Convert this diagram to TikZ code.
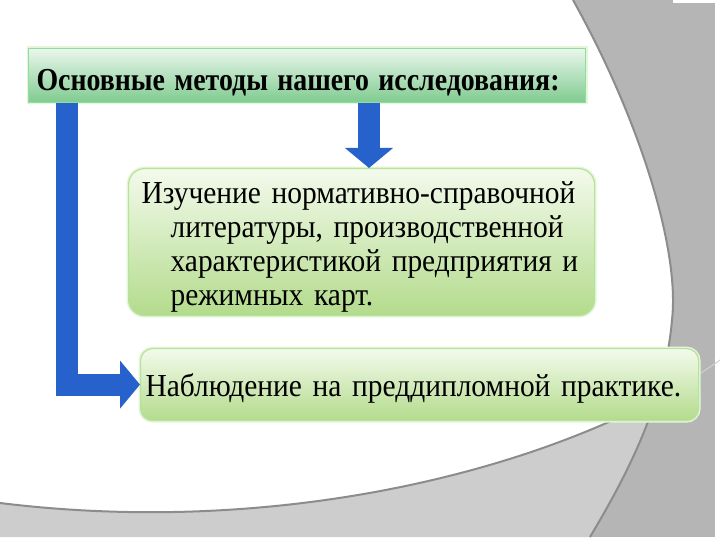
\documentclass[tikz,border=0pt]{standalone}
\usepackage{fontspec}
\usepackage{graphicx}
\setmainfont{Liberation Serif}
\newfontfamily\bodyfont{Liberation Serif}[FakeStretch=0.92, WordSpace=0.8]
\newfontfamily\titlefont{Liberation Serif}
\usetikzlibrary{arrows.meta, positioning}

\definecolor{bggray}{HTML}{B5B5B5}
\definecolor{floorgray}{HTML}{CDCDCD}
\definecolor{edgegray}{HTML}{8C8C8C}
\definecolor{arrowblue}{HTML}{2762CC}
\definecolor{titletop}{HTML}{EAF6EC}
\definecolor{titlebot}{HTML}{7FCB90}
\definecolor{titleedge}{HTML}{8FDDA0}
\definecolor{boxtop}{HTML}{F3FAEC}
\definecolor{boxbot}{HTML}{B3DB8C}
\definecolor{boxedge}{HTML}{B5E39A}
\definecolor{glowgreen}{HTML}{E3F6D8}

\begin{document}
\begin{tikzpicture}[x=1pt, y=-1pt,
    titlebox/.style={rectangle, draw=titleedge, line width=1pt, top color=titletop, bottom color=titlebot,
        preaction={draw=glowgreen, line width=4pt}, minimum width=557pt, minimum height=54pt,
        text width=541pt, inner xsep=8pt, align=left, text height=36pt, text depth=6pt,
        font=\titlefont\bfseries\fontsize{32}{36}\selectfont},
    methodbox/.style={rectangle, draw=boxedge, line width=1.2pt, top color=boxtop, bottom color=boxbot,
        preaction={draw=glowgreen, line width=4pt}, align=left, inner ysep=0pt,
        font=\bodyfont\fontsize{32}{34}\selectfont},
    fatarrow/.style={draw=arrowblue, line width=22pt, -{Triangle[width=47pt, length=20pt]}}
]
    \useasboundingbox (0,0) rectangle (720,540);

    % slide background
    \fill[bggray] (0,0) rectangle (715,537);
    \fill[white] (673,0) rectangle (715,3);
    \draw[edgegray!40, line width=1pt] (0,503) .. controls (300,540) and (580,460) .. (720,360);
    \fill[white] (0,0) -- (573,0) .. controls (640,120) and (680,250) .. (672,320)
        .. controls (665,400) and (630,470) .. (590,537) -- (0,537) -- cycle;
    \begin{scope}
        \clip (0,0) -- (573,0) .. controls (640,120) and (680,250) .. (672,320)
            .. controls (665,400) and (630,470) .. (590,537) -- (0,537) -- cycle;
        \fill[floorgray] (0,503) .. controls (300,540) and (580,460) .. (720,360)
            -- (720,537) -- (0,537) -- cycle;
        \draw[edgegray, line width=2pt] (0,503) .. controls (300,540) and (580,460) .. (720,360);
    \end{scope}
    \draw[edgegray, line width=2pt] (573,0) .. controls (640,120) and (680,250) .. (672,320)
        .. controls (665,400) and (630,470) .. (590,537);

    % boxes
    \node[titlebox, anchor=north west] (title) at (28,48)
        {\resizebox{523pt}{\height}{Основные методы нашего исследования:}};
    \node[methodbox, rounded corners=16pt, anchor=north west, minimum width=464pt, minimum height=147pt,
        text width=440pt, inner xsep=13pt, text height=33pt, text depth=110pt] (study) at (128,168)
        {\mbox{Изучение нормативно-справочной}\\
         \hspace*{29pt}\mbox{литературы, производственной}\\
         \hspace*{29pt}\mbox{характеристикой предприятия и}\\
         \hspace*{29pt}\mbox{режимных карт.}};
    \node[methodbox, rounded corners=12pt, anchor=north west, minimum width=558pt, minimum height=72pt,
        text width=548pt, inner xsep=5pt, text height=31pt, text depth=7pt] (practice) at (140,348)
        {Наблюдение на преддипломной практике.};

    % arrows
    \coordinate (leftx) at (67,0);
    \coordinate (downx) at (369,0);
    \draw[fatarrow] (title.south -| leftx) |- (practice.west);
    \draw[fatarrow] (title.south -| downx) -- (study.north -| downx);
\end{tikzpicture}
\end{document}
